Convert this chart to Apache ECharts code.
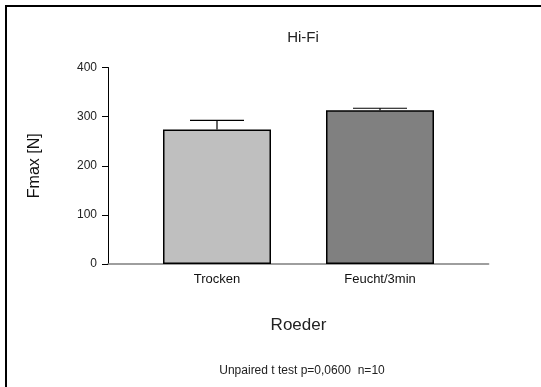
<!DOCTYPE html>
<html>
<head>
<meta charset="utf-8">
<script src="https://cdn.jsdelivr.net/npm/echarts@6/dist/echarts.min.js"></script>
<style>
html,body{margin:0;padding:0;background:#fff;}
#chart{width:541px;height:387px;}
</style>
</head>
<body>
<div id="chart"></div>
<script>
// ---- data ----
const categories = ['Trocken', 'Feucht/3min'];
const means = [274, 313];
const errors = [18.5, 4];
const barColors = ['#bfbfbf', '#808080'];
const yTicks = [0, 100, 200, 300, 400];
const titleText = 'Hi-Fi';
const xName = 'Roeder';
const yName = 'Fmax [N]';
const noteText = 'Unpaired t test p=0,0600  n=10';

const FONT = '"Liberation Sans", Arial, sans-serif';
const chart = echarts.init(document.getElementById('chart'), null, {renderer: 'canvas'});

const barData = means.map((v, i) => ({value: v, itemStyle: {color: barColors[i]}}));
const errData = means.map((v, i) => [i, v, v + errors[i]]);

const option = {
  animation: false,
  backgroundColor: '#fff',
  title: [
    {text: titleText, left: 298, top: 25, textAlign: 'center',
     textStyle: {fontFamily: FONT, fontSize: 15, fontWeight: 'normal', color: '#222'}},
    {text: noteText, left: 297, top: 360, textAlign: 'center',
     textStyle: {fontFamily: FONT, fontSize: 12, fontWeight: 'normal', color: '#222'}}
  ],
  graphic: [
    {type: 'rect', shape: {x: 6, y: 6, width: 600, height: 500},
     style: {fill: 'none', stroke: '#000', lineWidth: 2}, silent: true}
  ],
  grid: [
    {left: 108, right: 52.4, top: 67.5, bottom: 123, containLabel: false},
    {left: 135.5, right: 79.5, top: 67.5, bottom: 123, containLabel: false}
  ],
  xAxis: [
    {type: 'value', gridIndex: 0, min: 0, max: 1,
     axisLine: {show: true, lineStyle: {color: '#7f7f7f', width: 1.5}},
     axisTick: {show: false}, axisLabel: {show: false}, splitLine: {show: false}},
    {type: 'category', gridIndex: 1, data: categories,
     axisLine: {show: false}, axisTick: {show: false},
     axisLabel: {fontFamily: FONT, fontSize: 13, color: '#111', margin: 9},
     name: xName, nameLocation: 'middle', nameGap: 53,
     nameTextStyle: {fontFamily: FONT, fontSize: 17, color: '#222'}}
  ],
  yAxis: [
    {type: 'value', gridIndex: 0, min: yTicks[0], max: yTicks[yTicks.length - 1], interval: yTicks[1] - yTicks[0],
     axisLine: {show: true, lineStyle: {color: '#000', width: 1}},
     axisTick: {show: true, length: 6, lineStyle: {color: '#000', width: 1}},
     axisLabel: {fontFamily: FONT, fontSize: 12, color: '#222', margin: 11},
     splitLine: {show: false},
     name: yName, nameLocation: 'middle', nameGap: 65, nameRotate: 90,
     nameTextStyle: {fontFamily: FONT, fontSize: 16, color: '#111'}},
    {type: 'value', gridIndex: 1, min: yTicks[0], max: yTicks[yTicks.length - 1], show: false}
  ],
  series: [
    {type: 'bar', xAxisIndex: 1, yAxisIndex: 1, data: barData, barWidth: 108,
     itemStyle: {borderColor: '#000', borderWidth: 1.5}, z: 2},
    {type: 'custom', xAxisIndex: 1, yAxisIndex: 1, data: errData, z: 3,
     renderItem: function (params, api) {
       const x = api.value(0);
       const lo = api.coord([x, api.value(1)]);
       const hi = api.coord([x, api.value(2)]);
       const hw = 27;
       return {
         type: 'group',
         children: [
           {type: 'line', shape: {x1: lo[0], y1: lo[1], x2: hi[0], y2: hi[1]},
            style: {stroke: '#000', lineWidth: 1.2}},
           {type: 'line', shape: {x1: hi[0] - hw, y1: hi[1], x2: hi[0] + hw, y2: hi[1]},
            style: {stroke: '#000', lineWidth: 1.2}}
         ]
       };
     }}
  ]
};
chart.setOption(option);
</script>
</body>
</html>
